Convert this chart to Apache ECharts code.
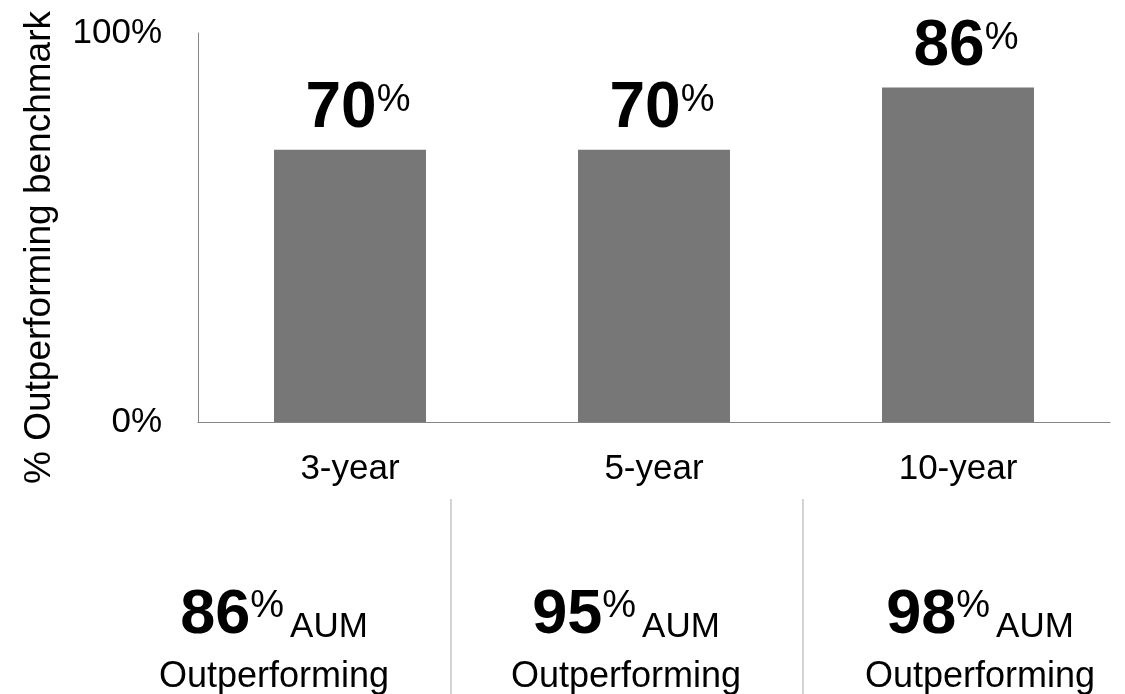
<!DOCTYPE html>
<html>
<head>
<meta charset="utf-8">
<title>Outperforming benchmark</title>
<script src="https://cdn.jsdelivr.net/npm/echarts@6/dist/echarts.min.js"></script>
<style>
  html, body { margin: 0; padding: 0; background: #ffffff; }
  #chart { width: 1125px; height: 694px; }
</style>
</head>
<body>
<div id="chart"></div>
<script>
// Share of funds beating their benchmark, by horizon
const categories = ['3-year', '5-year', '10-year'];
const outperformPct = [70, 70, 86];
// Share of assets under management outperforming, by horizon
const aumPct = [86, 95, 98];
const yTicks = [0, 100];

const FONT = '"Liberation Sans", Arial, sans-serif';

const chart = echarts.init(document.getElementById('chart'));

const richBig = {
  v: { fontFamily: FONT, fontWeight: 'bold', fontSize: 63, color: '#000', lineHeight: 64, verticalAlign: 'bottom' },
  p: { fontFamily: FONT, fontSize: 38, color: '#000', lineHeight: 40, verticalAlign: 'top', padding: [5, 0, 0, 0] },
  u: { fontFamily: FONT, fontSize: 35, color: '#000', lineHeight: 40, verticalAlign: 'bottom', padding: [0, 0, 2, 6] }
};

const blockCenters = [274, 626, 980];
const graphics = [];
aumPct.forEach((v, i) => {
  graphics.push({
    type: 'text',
    x: blockCenters[i],
    y: 615,
    style: {
      text: '{v|' + v + '}{p|%}{u|AUM}',
      rich: richBig,
      align: 'center',
      verticalAlign: 'middle'
    }
  });
  graphics.push({
    type: 'text',
    x: blockCenters[i],
    y: 677,
    style: {
      text: 'Outperforming',
      fontFamily: FONT,
      fontSize: 36,
      fill: '#000',
      align: 'center',
      verticalAlign: 'middle'
    }
  });
});
[451, 803].forEach(x => {
  graphics.push({
    type: 'line',
    shape: { x1: x, y1: 499, x2: x, y2: 694 },
    style: { stroke: '#d4d4d4', lineWidth: 2 }
  });
});

chart.setOption({
  animation: false,
  backgroundColor: '#ffffff',
  grid: { left: 198, right: 15, top: 33, bottom: 272, containLabel: false, outerBoundsMode: 'none' },
  xAxis: {
    type: 'category',
    data: categories,
    axisLine: { lineStyle: { color: '#868686', width: 1 } },
    axisTick: { show: false },
    axisLabel: { fontFamily: FONT, fontSize: 35, color: '#000', margin: 30 }
  },
  yAxis: {
    type: 'value',
    min: yTicks[0],
    max: yTicks[1],
    interval: 100,
    name: '% Outperforming benchmark',
    nameLocation: 'middle',
    nameGap: 140,
    nameRotate: 90,
    nameTextStyle: { fontFamily: FONT, fontSize: 37, color: '#000', padding: [0, 40, 0, 0] },
    axisLine: { show: true, lineStyle: { color: '#868686', width: 1 } },
    axisTick: { show: false },
    splitLine: { show: false },
    axisLabel: { fontFamily: FONT, fontSize: 35, color: '#000', margin: 36, formatter: '{value}%' }
  },
  series: [{
    type: 'bar',
    data: outperformPct,
    barWidth: '50%',
    itemStyle: { color: '#777777' },
    label: {
      show: true,
      position: 'top',
      distance: 8,
      offset: [8, 0],
      formatter: p => '{v|' + p.value + '}{p|%}',
      rich: {
        v: { fontFamily: FONT, fontWeight: 'bold', fontSize: 64, color: '#000', lineHeight: 64, verticalAlign: 'bottom' },
        p: { fontFamily: FONT, fontSize: 38, color: '#000', lineHeight: 40, verticalAlign: 'top', padding: [4, 0, 0, 0] }
      }
    }
  }],
  graphic: graphics
});
</script>
</body>
</html>
